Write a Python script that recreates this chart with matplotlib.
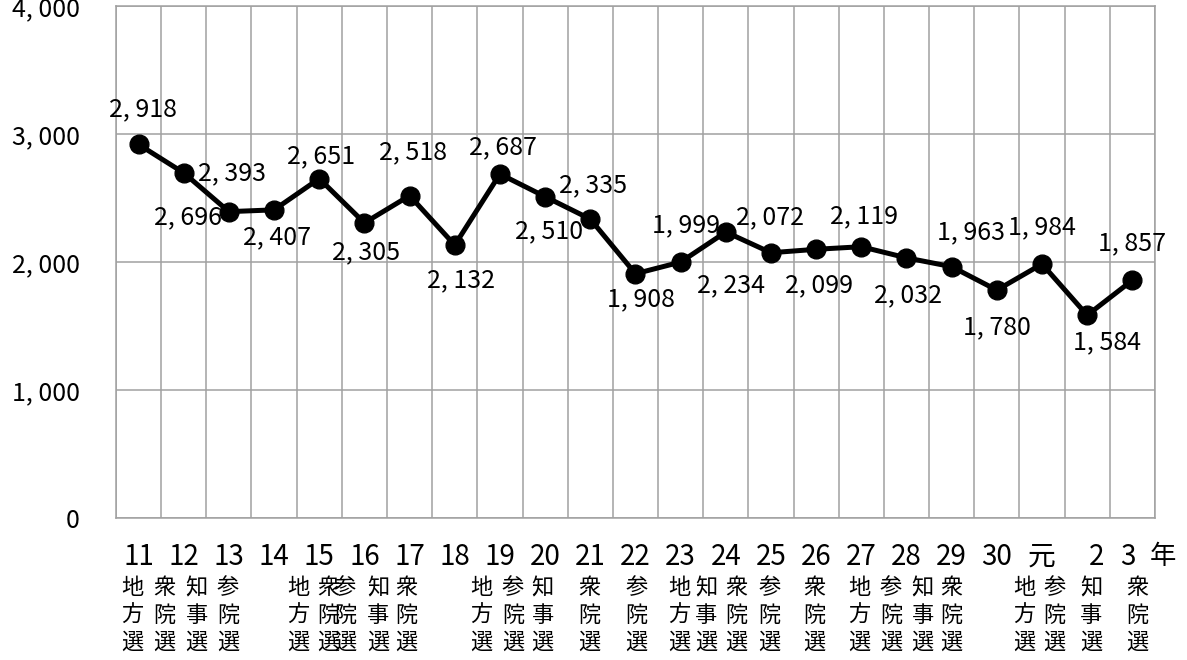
import matplotlib
matplotlib.use('Agg')
import matplotlib.pyplot as plt
import numpy as np

plt.rcParams['font.family'] = ['Noto Sans CJK JP', 'DejaVu Sans']

# 年ごとの値
years = ['11', '12', '13', '14', '15', '16', '17', '18', '19', '20', '21', '22',
         '23', '24', '25', '26', '27', '28', '29', '30', '元', '2', '3']
values = [2918, 2696, 2393, 2407, 2651, 2305, 2518, 2132, 2687, 2510, 2335, 1908,
          1999, 2234, 2072, 2099, 2119, 2032, 1963, 1780, 1984, 1584, 1857]

# 選挙の種類
elections = ['地方選', '衆院選', '知事選', '参院選',
             '地方選', '衆院選', '参院選', '知事選', '衆院選',
             '地方選', '参院選', '知事選', '衆院選', '参院選',
             '地方選', '知事選', '衆院選', '参院選', '衆院選',
             '地方選', '参院選', '知事選', '衆院選',
             '地方選', '参院選', '知事選', '衆院選']
# where each election column sits (category units)
elec_pos = [-0.13, 0.58, 1.29, 1.98,
            3.53, 4.21, 4.57, 5.30, 5.93,
            7.59, 8.29, 8.95, 9.99, 11.02,
            11.98, 12.57, 13.23, 13.97, 14.96,
            15.96, 16.66, 17.36, 17.99,
            19.61, 20.27, 21.09, 22.12]

# label offsets in pixels (dx, dy up)
lbl_off = [(4, 35), (4, -44), (3, 38), (3, -27), (2, 22), (2, -29), (3, 43),
           (6, -35), (3, 27), (4, -35), (3, 34), (5, -26), (5, 37), (5, -53),
           (-1, 35), (3, -36), (3, 30), (2, -37), (19, 34), (0, -37), (0, 37),
           (20, -27), (0, 37)]

fig = plt.figure(figsize=(11.87, 6.6), dpi=100)
ax = fig.add_axes([0.0977, 0.2152, 0.8753, 0.7758])

x = np.arange(len(values))
ax.plot(x, values, color='black', linewidth=3.6, marker='o', markersize=13.5, zorder=3)

for i, v in enumerate(values):
    txt = f'{v:,}'.replace(',', ', ')
    ax.annotate(txt, (i, v), xytext=lbl_off[i], textcoords='offset pixels',
                ha='center', va='center', fontsize=18, zorder=4)

ax.set_xlim(-0.5, len(values) - 0.5)
ax.set_ylim(0, 4000)

grid_c = '#a0a0a0'
ax.set_xticks(np.arange(-0.5, len(values), 1), minor=True)
ax.set_xticks([])
ax.xaxis.grid(True, which='minor', color=grid_c, linewidth=1.1)
ax.set_yticks([0, 1000, 2000, 3000, 4000])
ax.set_yticklabels([f'{t:,}'.replace(',', ', ') for t in [0, 1000, 2000, 3000, 4000]],
                   fontsize=18)
ax.yaxis.grid(True, color=grid_c, linewidth=1.1)
ax.tick_params(axis='both', which='both', length=0)
ax.tick_params(axis='y', pad=26)
ax.set_axisbelow(True)
for s in ax.spines.values():
    s.set_color(grid_c)
    s.set_linewidth(1.1)

tr = ax.get_xaxis_transform()
for i, y in enumerate(years):
    xp = i
    if y == '2':
        xp = i + 0.2
    elif i == len(years) - 1:
        xp = i - 0.1
    ax.text(xp, -0.0756, y, transform=tr, ha='center', va='center', fontsize=20)
ax.text(len(years) - 1 + 0.67, -0.0756, '年', transform=tr, ha='center', va='center',
        fontsize=19)

rows = [-0.1367, -0.191, -0.242]
for name, p in zip(elections, elec_pos):
    for ch, yr in zip(name, rows):
        ax.text(p, yr, ch, transform=tr, ha='center', va='center', fontsize=16)

fig.savefig('out.png', dpi=100)
